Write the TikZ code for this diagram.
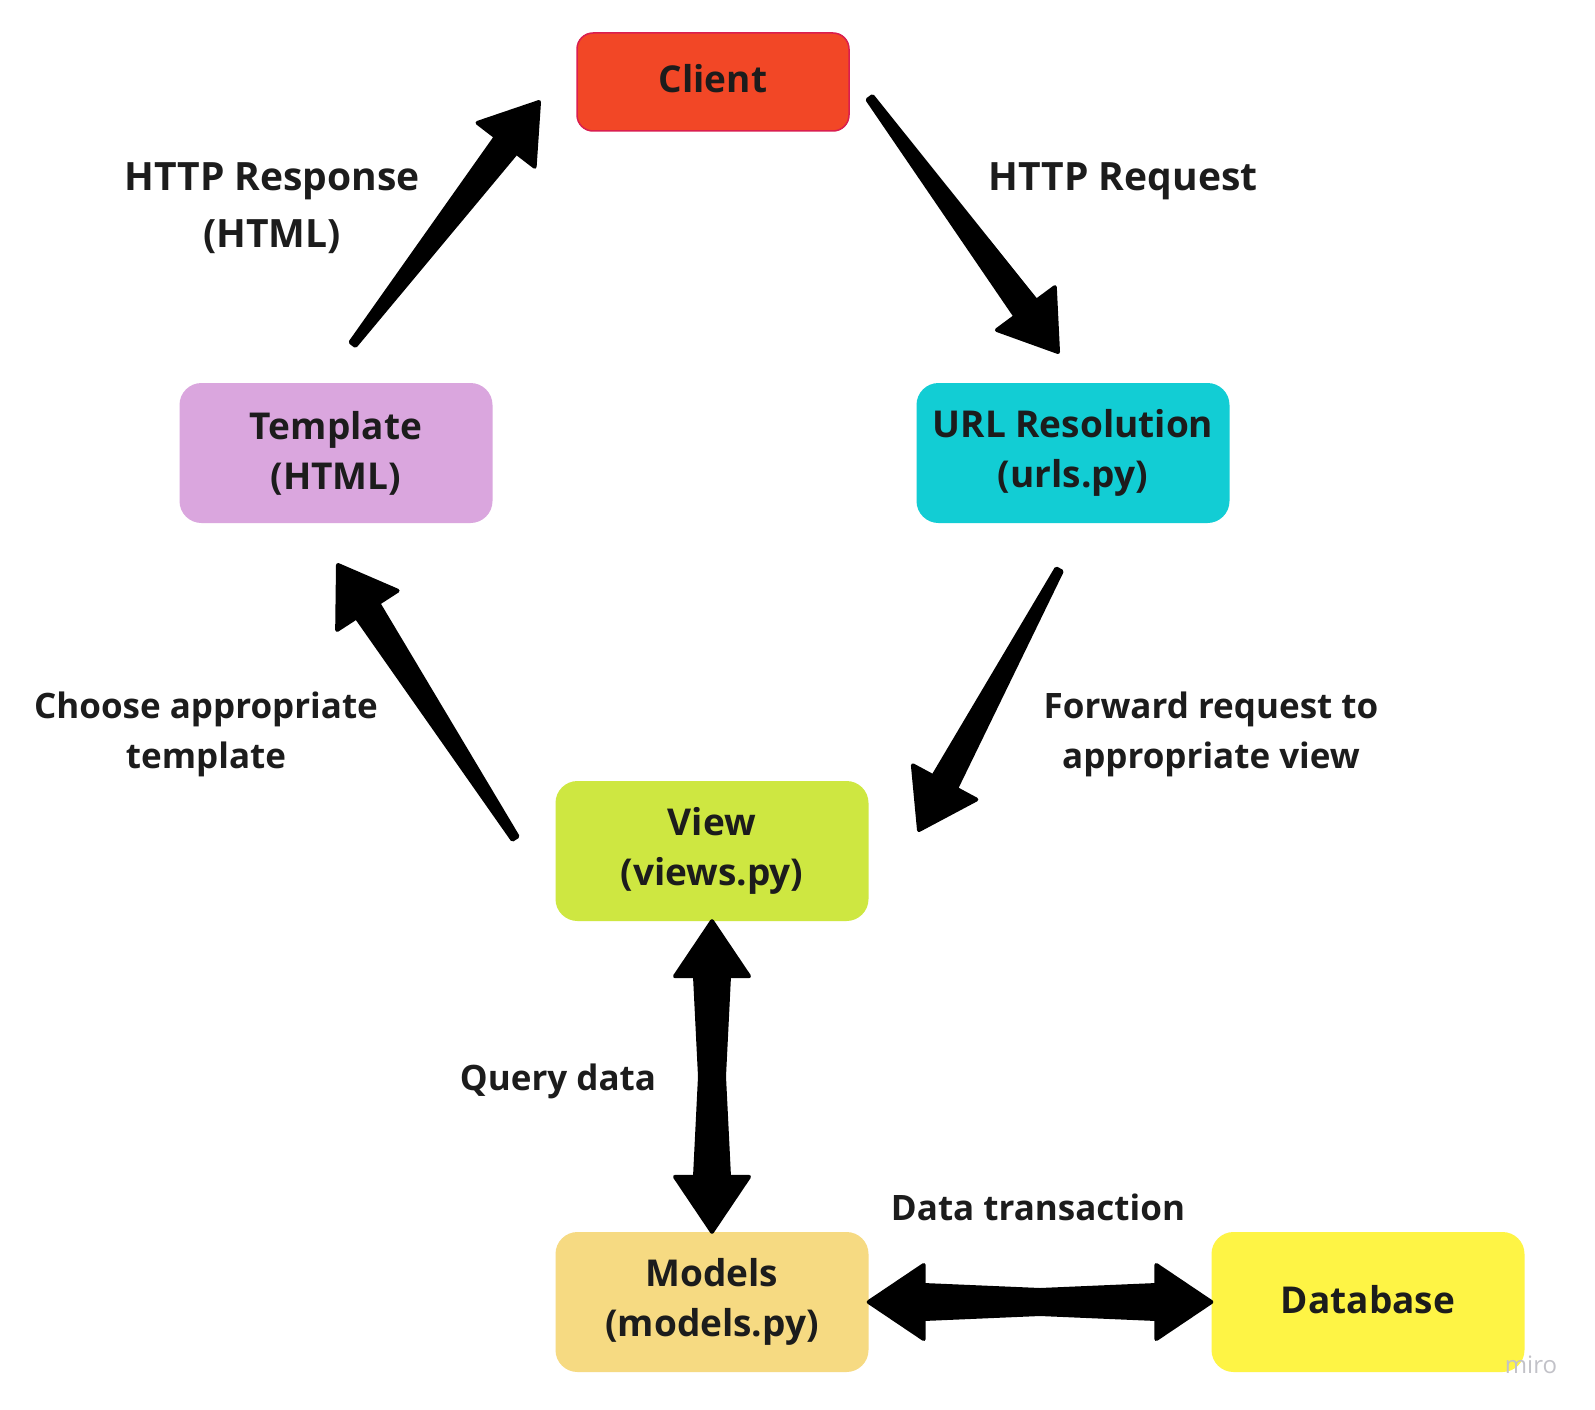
\documentclass[tikz,border=0pt]{standalone}
\usepackage{fontspec}
\setmainfont{Open Sans}
\usetikzlibrary{calc}
\definecolor{clientc}{HTML}{F24726}
\definecolor{clientb}{HTML}{DA1E4F}
\definecolor{tplc}{HTML}{DAA6DE}
\definecolor{urlc}{HTML}{12CDD4}
\definecolor{viewc}{HTML}{CEE741}
\definecolor{modc}{HTML}{F6DA82}
\definecolor{dbc}{HTML}{FEF445}
\definecolor{txt}{HTML}{1C1C1C}
\definecolor{miroc}{HTML}{C2C2C8}
\newcommand\boxfont{\fontsize{37}{50}\selectfont\bfseries}
\newcommand\lblfont{\fontsize{35}{50}\selectfont\bfseries}
\newcommand\httpfont{\fontsize{39}{57}\selectfont\bfseries}
\newcommand\taperarrow[2]{%
  \coordinate (tmpc) at ($(#2)!54pt!(#1)$);
  \fill[arrowfill] ($(#1)!3pt!90:(#2)$) -- ($(tmpc)!13pt!90:(#2)$) -- ($(tmpc)!36pt!90:(#2)$) -- (#2)
     -- ($(tmpc)!36pt!-90:(#2)$) -- ($(tmpc)!13pt!-90:(#2)$) -- ($(#1)!3pt!-90:(#2)$) -- cycle;
}
\newcommand\dblarrow[2]{%
  \coordinate (tmpa) at ($(#1)!55pt!(#2)$);
  \coordinate (tmpb) at ($(#2)!55pt!(#1)$);
  \coordinate (tmpm) at ($(#1)!0.5!(#2)$);
  \fill[arrowfill] (#1) -- ($(tmpa)!37pt!90:(#2)$) -- ($(tmpa)!17pt!90:(#2)$) -- ($(tmpm)!12pt!90:(#2)$)
     -- ($(tmpb)!17pt!-90:(#1)$) -- ($(tmpb)!37pt!-90:(#1)$) -- (#2)
     -- ($(tmpb)!37pt!90:(#1)$) -- ($(tmpb)!17pt!90:(#1)$) -- ($(tmpm)!12pt!-90:(#2)$)
     -- ($(tmpa)!17pt!-90:(#2)$) -- ($(tmpa)!37pt!-90:(#2)$) -- cycle;
}
\begin{document}
\begin{tikzpicture}[x=1pt,y=-1pt,
  box/.style={rounded corners=22pt, minimum width=313pt, minimum height=140pt, inner sep=0pt,
    align=center, font=\boxfont, text=txt},
  lbl/.style={align=center, font=\lblfont, text=txt, inner sep=0pt},
  arrowfill/.style={fill=black, draw=black, line width=4pt, line join=round}]
\useasboundingbox (0,0) rectangle (1595,1410);
\fill[white] (0,0) rectangle (1595,1410);

% boxes
\node[box, fill=clientc, draw=clientb, line width=1.5pt, rounded corners=16pt,
      minimum width=272pt, minimum height=98pt, text height=28pt, text depth=6pt] (client) at (713,82) {Client};
\node[box, fill=tplc] (template) at (336,453) {Template\\(HTML)};
\node[box, fill=urlc] (url) at (1073,453) {URL Resolution\\(urls.py)};
\node[box, fill=viewc] (view) at (712,851) {View\\(views.py)};
\node[box, fill=modc] (models) at (712,1302) {Models\\(models.py)};
\node[box, fill=dbc, text height=23pt, text depth=0pt] (db) at (1368,1302) {Database};

% labels
\node[lbl, font=\httpfont] (lresp) at (272,208) {HTTP Response\\(HTML)};
\node[lbl, font=\httpfont] (lreq) at (1123,181) {HTTP Request};
\node[lbl] (lchoose) at (206,734) {Choose appropriate\\template};
\node[lbl] (lfwd) at (1211,734) {Forward request to\\appropriate view};
\node[lbl] (lquery) at (558,1081) {Query data};
\node[lbl] (ltrans) at (1038,1207) {Data transaction};

% arrow end points
\coordinate (a1s) at (870,98);
\coordinate (a1e) at (1058,352);
\coordinate (a2s) at (353,344);
\coordinate (a2e) at (539,102);
\coordinate (a3s) at (1059,570);
\coordinate (a3e) at (919,830);
\coordinate (a4s) at (515,838);
\coordinate (a4e) at (338,565);

\taperarrow{a1s}{a1e}
\taperarrow{a2s}{a2e}
\taperarrow{a3s}{a3e}
\taperarrow{a4s}{a4e}
\dblarrow{view.south}{models.north}
\dblarrow{models.east}{db.west}

% watermark
\node[font=\fontsize{24}{24}\selectfont, text=miroc, inner sep=0pt] (miro) at (1531,1365) {miro};
\end{tikzpicture}
\end{document}
